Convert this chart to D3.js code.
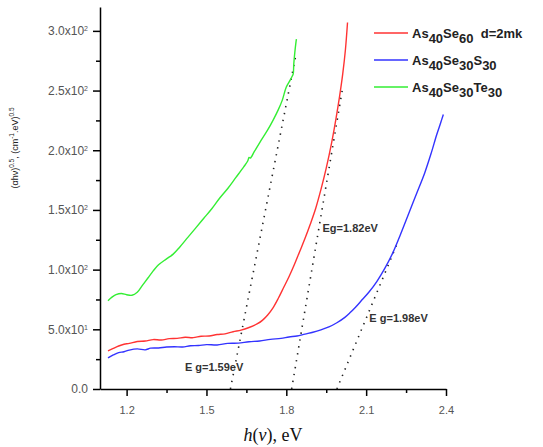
<!DOCTYPE html>
<html>
<head>
<meta charset="utf-8">
<script src="https://cdn.jsdelivr.net/npm/d3@7"></script>
<style>
	body { margin: 0; background: #fff; }
	svg { display: block; font-family: "Liberation Sans", Arial, sans-serif; }
	.axis path, .axis line { stroke: #000; stroke-width: 1.5; }
	.axis text { fill: #555; font-size: 12px; }
	.curve { fill: none; stroke-width: 1.4; }
	.tangent { fill: none; stroke: #222; stroke-width: 1.6; stroke-dasharray: 1.4 5.6; }
	.eg { fill: #333; font-size: 11px; font-weight: bold; }
	.legend text { fill: #222; font-size: 13px; font-weight: bold; }
</style>
</head>
<body>
<svg id="chart" width="543" height="447"></svg>
<script>

// As40Se60 (red)
const RED_X = [1.13, 1.15, 1.17, 1.19, 1.21, 1.24, 1.27, 1.30, 1.33, 1.36, 1.39, 1.42, 1.45, 1.48, 1.51, 1.54, 1.57, 1.60, 1.63, 1.66, 1.69, 1.71, 1.73, 1.75, 1.77, 1.79, 1.81, 1.83, 1.85, 1.87, 1.89, 1.91, 1.93, 1.95, 1.97, 1.987, 2.00, 2.012, 2.022, 2.03];
const RED_Y = [32, 34, 36, 37.5, 38.2, 39.8, 40.2, 41.4, 41.0, 42.2, 42.4, 43.3, 43.0, 44.2, 44.4, 45.6, 46.2, 48, 49.3, 51.5, 54.5, 57.5, 62, 68, 76, 85, 94, 104, 115, 126, 138, 151, 167, 185, 206, 227, 245, 264, 284, 307];

// As40Se30S30 (blue)
const BLUE_X = [1.13, 1.15, 1.17, 1.19, 1.21, 1.24, 1.27, 1.29, 1.32, 1.35, 1.38, 1.41, 1.44, 1.47, 1.50, 1.54, 1.58, 1.62, 1.66, 1.70, 1.74, 1.78, 1.81, 1.84, 1.87, 1.90, 1.93, 1.96, 1.99, 2.02, 2.04, 2.06, 2.08, 2.11, 2.14, 2.17, 2.20, 2.23, 2.26, 2.29, 2.32, 2.345, 2.365, 2.38, 2.39];
const BLUE_Y = [26, 28.5, 30.5, 31.2, 32.6, 33.6, 32.8, 34.2, 34.4, 35.2, 35.4, 35.2, 36.2, 36.4, 37.2, 36.9, 38.2, 38.4, 39.6, 40.2, 41.6, 42.4, 43.6, 44.4, 46, 47.5, 49.5, 52, 55.5, 60, 64, 68.5, 73.5, 81, 90, 101, 114, 130, 147, 164, 181, 198, 213, 223, 230];

// As40Se30Te30 (green)
const GREEN_X = [1.13, 1.145, 1.16, 1.18, 1.20, 1.22, 1.24, 1.26, 1.28, 1.30, 1.32, 1.35, 1.375, 1.40, 1.43, 1.46, 1.49, 1.52, 1.55, 1.58, 1.61, 1.64, 1.655, 1.66, 1.665, 1.68, 1.71, 1.73, 1.75, 1.77, 1.785, 1.80, 1.815, 1.822, 1.826, 1.828, 1.832, 1.836, 1.838];
const GREEN_Y = [74, 77, 79, 80, 79, 78.5, 81, 87, 93, 99, 104, 109, 113, 119, 127, 135, 143, 151, 160, 168, 177, 186, 191, 194, 193.5, 199, 210, 217, 225, 234, 242, 253, 259, 262, 264, 272, 282, 290, 293];

// dotted tangent lines: [x0, x1], [y0, y1]
const TANGENT_X = [[1.59, 1.838], [1.82, 2.01], [1.99, 2.215]];
const TANGENT_Y = [[0, 282], [0, 250], [0, 121]];

// band gap labels and where their text starts
const EG_TEXT = ['E g=1.59eV', 'Eg=1.82eV', 'E g=1.98eV'];
const EG_X = [1.419, 1.936, 2.112];
const EG_Y = [15, 131.5, 56];

const X_TICKS = [1.2, 1.5, 1.8, 2.1, 2.4];
const X_MINOR = [1.35, 1.65, 1.95, 2.25];
const Y_TICKS = [0, 50, 100, 150, 200, 250, 300];
const Y_MINOR = [25, 75, 125, 175, 225, 275];
const Y_TICK_BASE = ['0.0', '5.0x10', '1.0x10', '1.5x10', '2.0x10', '2.5x10', '3.0x10'];
const Y_TICK_EXP = ['', '1', '2', '2', '2', '2', '2'];

// legend: pieces of each formula, [text, isSubscript]
const LEGEND_COLORS = ['#ff3333', '#3333ff', '#33ee33'];
const LEGEND_PARTS = [
	[['As', 0], ['40', 1], ['Se', 0], ['60', 1], ['  d=2mk', 0]],
	[['As', 0], ['40', 1], ['Se', 0], ['30', 1], ['S', 0], ['30', 1]],
	[['As', 0], ['40', 1], ['Se', 0], ['30', 1], ['Te', 0], ['30', 1]]
];

const svg = d3.select('#chart');

const x = d3.scaleLinear().domain([1.1, 2.4]).range([100, 446]);
const y = d3.scaleLinear().domain([0, 320]).range([389, 7]);

// minor ticks first, majors on top
svg.append('g')
	.attr('class', 'axis')
	.attr('transform', 'translate(0,389)')
	.call(d3.axisBottom(x).tickValues(X_MINOR).tickSize(4).tickFormat(''))
	.select('.domain').remove();
svg.append('g')
	.attr('class', 'axis')
	.attr('transform', 'translate(100,0)')
	.call(d3.axisLeft(y).tickValues(Y_MINOR).tickSize(4).tickFormat(''))
	.select('.domain').remove();

const xAxis = svg.append('g')
	.attr('class', 'axis')
	.attr('transform', 'translate(0,389)')
	.call(d3.axisBottom(x).tickValues(X_TICKS).tickSize(7).tickSizeOuter(0).tickPadding(10)
		.tickFormat(d3.format('.1f')));
xAxis.selectAll('text').style('font-size', '11px');

const yAxis = svg.append('g')
	.attr('class', 'axis')
	.attr('transform', 'translate(100,0)')
	.call(d3.axisLeft(y).tickValues(Y_TICKS).tickSize(7).tickSizeOuter(0).tickPadding(5)
		.tickFormat((d, i) => Y_TICK_BASE[i]));
yAxis.selectAll('.tick text').each(function(d, i) {
	if (Y_TICK_EXP[i]) {
		d3.select(this).append('tspan')
			.attr('dy', '-0.55em')
			.style('font-size', '7px')
			.text(Y_TICK_EXP[i]);
	}
});

// axis titles
const yTitle = svg.append('text')
	.attr('transform', 'translate(18,148) rotate(-90)')
	.attr('text-anchor', 'middle')
	.style('font-size', '9px')
	.style('fill', '#222');
yTitle.append('tspan').text('(αhν)');
yTitle.append('tspan').attr('dy', '-4').style('font-size', '6.5px').text('0.5');
yTitle.append('tspan').attr('dy', '4').text(', (cm');
yTitle.append('tspan').attr('dy', '-4').style('font-size', '6.5px').text('-1');
yTitle.append('tspan').attr('dy', '4').text('.eV)');
yTitle.append('tspan').attr('dy', '-4').style('font-size', '6.5px').text('0.5');

const xTitle = svg.append('text')
	.attr('x', 273)
	.attr('y', 441)
	.attr('text-anchor', 'middle')
	.style('font-family', '"Liberation Serif", "Times New Roman", serif')
	.style('font-size', '18px')
	.style('fill', '#111');
xTitle.append('tspan').style('font-style', 'italic').text('h');
xTitle.append('tspan').text('(');
xTitle.append('tspan').style('font-style', 'italic').text('v');
xTitle.append('tspan').text('), eV');

// tangents
const line = d3.line().x(d => x(d[0])).y(d => y(d[1]));
TANGENT_X.forEach((tx, i) => {
	svg.append('path')
		.attr('class', 'tangent')
		.attr('d', line(d3.zip(tx, TANGENT_Y[i])));
});

// curves
const curve = d3.line().x(d => x(d[0])).y(d => y(d[1])).curve(d3.curveCatmullRom);
[[RED_X, RED_Y], [BLUE_X, BLUE_Y], [GREEN_X, GREEN_Y]].forEach((s, i) => {
	svg.append('path')
		.attr('class', 'curve')
		.attr('stroke', LEGEND_COLORS[i])
		.attr('d', curve(d3.zip(s[0], s[1])));
});

// band gap labels
svg.selectAll('.eg')
	.data(EG_TEXT)
	.enter()
	.append('text')
	.attr('class', 'eg')
	.attr('x', (d, i) => x(EG_X[i]))
	.attr('y', (d, i) => y(EG_Y[i]))
	.text(d => d);

// legend
const legend = svg.append('g').attr('class', 'legend');
LEGEND_PARTS.forEach((parts, i) => {
	const ly = 33 + i * 27;
	legend.append('line')
		.attr('x1', 374).attr('x2', 408)
		.attr('y1', ly).attr('y2', ly)
		.attr('stroke', LEGEND_COLORS[i])
		.attr('stroke-width', 1.5);
	const t = legend.append('text')
		.attr('x', 412)
		.attr('y', ly + 5)
		.attr('xml:space', 'preserve')
		.style('white-space', 'pre');
	let sub = 0;
	parts.forEach(p => {
		const shift = p[1] - sub;
		t.append('tspan').attr('dy', shift * 5).text(p[0]);
		sub = p[1];
	});
});
</script>
</body>
</html>
